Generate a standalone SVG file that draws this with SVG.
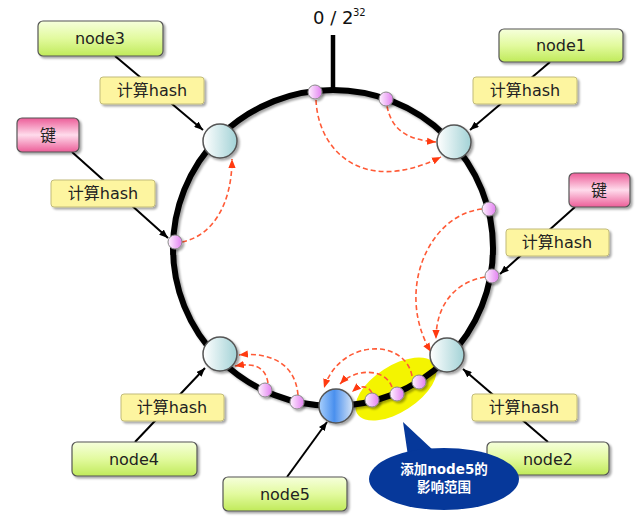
<svg xmlns="http://www.w3.org/2000/svg" width="640" height="521" viewBox="0 0 640 521">
<defs>
<filter id="sh" x="-20%" y="-20%" width="150%" height="160%"><feDropShadow dx="2" dy="2" stdDeviation="1.2" flood-color="#000" flood-opacity="0.35"/></filter>
<linearGradient id="gGreen" x1="0" y1="0" x2="0" y2="1"><stop offset="0" stop-color="#f6ffdc"/><stop offset="0.5" stop-color="#e2fa9e"/><stop offset="1" stop-color="#c0ea5a"/></linearGradient>
<linearGradient id="gPink" x1="0" y1="0" x2="0" y2="1"><stop offset="0" stop-color="#ec5d98"/><stop offset="0.5" stop-color="#ffdcec"/><stop offset="1" stop-color="#ec5d98"/></linearGradient>
<linearGradient id="gNode" x1="0" y1="0" x2="1" y2="0"><stop offset="0" stop-color="#ffffff"/><stop offset="1" stop-color="#a2d2d6"/></linearGradient>
<linearGradient id="gBlue" x1="0" y1="0" x2="1" y2="0"><stop offset="0" stop-color="#a8cffc"/><stop offset="0.45" stop-color="#4a90ee"/><stop offset="1" stop-color="#d6e4f6"/></linearGradient>
<linearGradient id="gDot" x1="0" y1="0" x2="1" y2="0"><stop offset="0" stop-color="#fff4ff"/><stop offset="1" stop-color="#e27ef0"/></linearGradient>
<marker id="ab" viewBox="0 0 10 8" refX="10" refY="4" markerWidth="9" markerHeight="7" markerUnits="userSpaceOnUse" orient="auto"><path d="M0,0 L10,4 L0,8 z" fill="#000"/></marker>
<marker id="ar" viewBox="0 0 10 8" refX="10" refY="4" markerWidth="9" markerHeight="8" markerUnits="userSpaceOnUse" orient="auto"><path d="M0,0 L10,4 L0,8 z" fill="#ff3a10"/></marker>
<style>
.box{fill:url(#gGreen);stroke:#555;stroke-width:1.2;filter:url(#sh)}
.key{fill:url(#gPink);stroke:#555;stroke-width:1.2;filter:url(#sh)}
.hash{fill:#fdf5a0;stroke:#c2bb7a;stroke-width:1;filter:url(#sh)}
.nd{fill:url(#gNode);stroke:#555;stroke-width:1.5;filter:url(#sh)}
.dot{fill:url(#gDot);stroke:#888;stroke-width:1;filter:url(#sh)}
.t{font-family:"DejaVu Sans","Noto Sans CJK SC",sans-serif;font-size:16px;fill:#222;text-anchor:middle}
.blk{stroke:#000;stroke-width:2;fill:none;marker-end:url(#ab)}
.red{stroke:#ff5a36;stroke-width:1.6;stroke-dasharray:5 3;fill:none;marker-end:url(#ar)}
</style>
</defs>
<rect width="640" height="521" fill="#fff"/>
<!-- yellow highlight -->
<ellipse cx="396" cy="389" rx="46" ry="23" transform="rotate(-33 396 389)" fill="#f4f400"/>
<!-- ring -->
<g id="ring">
<ellipse cx="333" cy="248" rx="160" ry="158" fill="none" stroke="#000" stroke-width="6" filter="url(#sh)"/>
<line x1="333" y1="35" x2="333" y2="91" stroke="#000" stroke-width="4.5"/>
<text x="313" y="24" font-family="DejaVu Sans, sans-serif" font-size="18" fill="#111">0 / 2</text>
<text x="353" y="16" font-family="DejaVu Sans, sans-serif" font-size="10" fill="#111">32</text>
</g>
<!-- connectors -->
<g id="connectors">
<line class="blk" x1="115" y1="56" x2="203" y2="130"/>
<line class="blk" x1="72" y1="152" x2="168" y2="238"/>
<line class="blk" x1="550" y1="62" x2="470" y2="130"/>
<line class="blk" x1="575" y1="207" x2="500" y2="274"/>
<line class="blk" x1="135" y1="442" x2="205" y2="368"/>
<line class="blk" x1="287" y1="477" x2="327" y2="422"/>
<line class="blk" x1="548" y1="442" x2="463" y2="369"/>
<path class="red" d="M182,242 C212,236 232,205 232,159"/>
<path class="red" d="M316,100 C318,150 362,196 441,157"/>
<path class="red" d="M387,106 C392,132 410,140 436,142"/>
<path class="red" d="M482,209 C428,215 395,292 431,352"/>
<path class="red" d="M485,277 C455,282 436,305 436,339"/>
<path class="red" d="M412,376 C405,338 340,338 324,388"/>
<path class="red" d="M392,387 C385,368 355,368 340,384"/>
<path class="red" d="M372,393 C368,385 360,385 352,392"/>
<path class="red" d="M298,395 C295,360 265,352 239,355"/>
<path class="red" d="M268,383 C265,365 252,363 235,366"/>
</g>
<!-- key dots -->
<g id="keys">
<circle class="dot" cx="315" cy="92" r="7"/>
<circle class="dot" cx="386" cy="99" r="7"/>
<circle class="dot" cx="489" cy="209" r="7"/>
<circle class="dot" cx="492" cy="276" r="7"/>
<circle class="dot" cx="175" cy="242" r="7"/>
<circle class="dot" cx="265" cy="390" r="7"/>
<circle class="dot" cx="297" cy="402" r="7"/>
<circle class="dot" cx="372" cy="400" r="7"/>
<circle class="dot" cx="397" cy="394" r="7"/>
<circle class="dot" cx="419" cy="382" r="7"/>
</g>
<!-- ring nodes -->
<g id="node3"><circle class="nd" cx="220" cy="141" r="17"/><rect class="box" x="38" y="21" width="125" height="35" rx="5"/><text class="t" x="100" y="44">node3</text><rect class="hash" x="100" y="77" width="104" height="27" rx="3"/><text class="t" x="152" y="96">计算hash</text></g>
<g id="node1"><circle class="nd" cx="454" cy="142" r="17"/><rect class="box" x="499" y="29" width="124" height="33" rx="5"/><text class="t" x="561" y="51">node1</text><rect class="hash" x="473" y="77" width="104" height="27" rx="3"/><text class="t" x="525" y="96">计算hash</text></g>
<g id="node4"><circle class="nd" cx="220" cy="354" r="17"/><rect class="box" x="72" y="442" width="125" height="34" rx="5"/><text class="t" x="134" y="465">node4</text><rect class="hash" x="121" y="394" width="103" height="27" rx="3"/><text class="t" x="172" y="413">计算hash</text></g>
<g id="node2"><circle class="nd" cx="447" cy="355" r="17"/><rect class="box" x="487" y="442" width="122" height="33" rx="5"/><text class="t" x="548" y="465">node2</text><rect class="hash" x="472" y="394" width="105" height="27" rx="3"/><text class="t" x="524" y="413">计算hash</text></g>
<g id="node5"><circle cx="336" cy="406" r="17" fill="url(#gBlue)" stroke="#555" stroke-width="1.5" filter="url(#sh)"/><rect class="box" x="223" y="477" width="124" height="34" rx="5"/><text class="t" x="285" y="500">node5</text></g>
<g id="keyL"><rect class="key" x="17" y="118" width="62" height="34" rx="5"/><text class="t" x="48" y="141">键</text><rect class="hash" x="51" y="180" width="104" height="27" rx="3"/><text class="t" x="103" y="199">计算hash</text></g>
<g id="keyR"><rect class="key" x="569" y="173" width="61" height="34" rx="5"/><text class="t" x="599" y="196">键</text><rect class="hash" x="506" y="229" width="103" height="27" rx="3"/><text class="t" x="557" y="248">计算hash</text></g>
<!-- callout -->
<g id="callout">
<path d="M403,422 L434,451 L408,456 Z" fill="#06389a"/>
<ellipse cx="444" cy="479" rx="75" ry="31" fill="#06389a"/>
<text x="444" y="474" font-family="DejaVu Sans, Noto Sans CJK SC, sans-serif" font-size="13.5" font-weight="bold" fill="#fff" text-anchor="middle">添加node5的</text>
<text x="444" y="492" font-family="DejaVu Sans, Noto Sans CJK SC, sans-serif" font-size="13.5" font-weight="bold" fill="#fff" text-anchor="middle">影响范围</text>
</g>
</svg>
